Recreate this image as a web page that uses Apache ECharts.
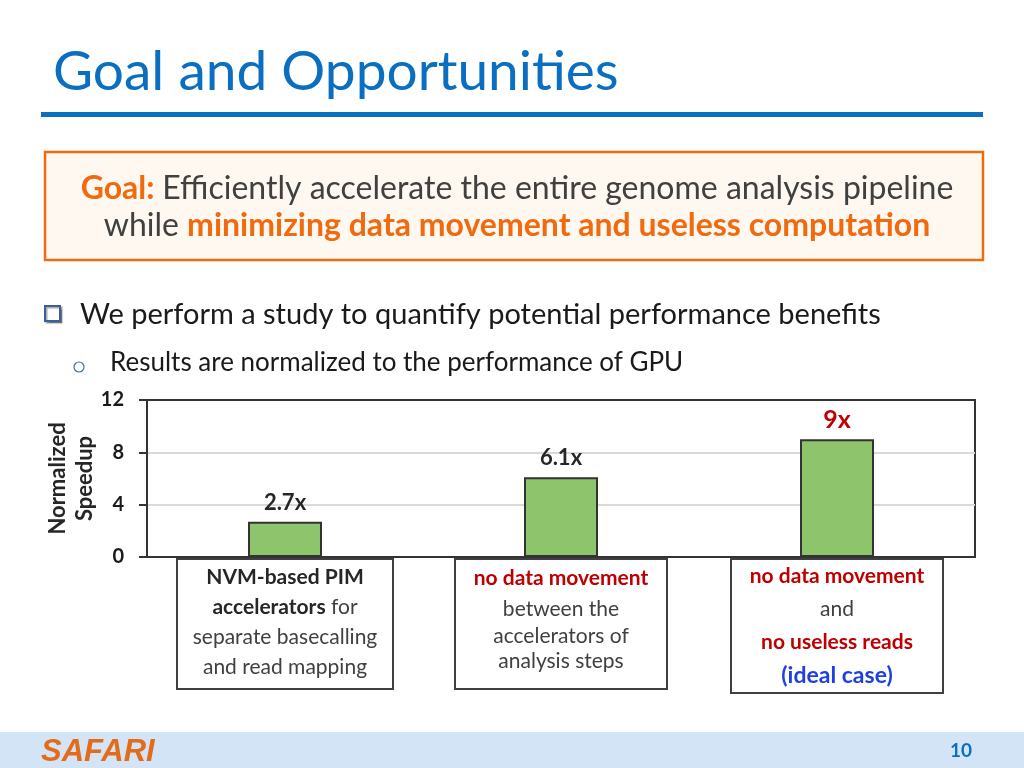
<!DOCTYPE html>
<html>
<head>
<meta charset="utf-8">
<script src="https://cdn.jsdelivr.net/npm/echarts@6/dist/echarts.min.js"></script>
<style>
html,body{margin:0;padding:0;background:#fff;}
#c{width:1024px;height:768px;}
</style>
</head>
<body>
<div id="c"></div>
<script>
// ---- data ----
var categories = [
  'NVM-based PIM accelerators for separate basecalling and read mapping',
  'no data movement between the accelerators of analysis steps',
  'no data movement and no useless reads (ideal case)'
];
var categoryLabels = [
  '{b|NVM-based PIM}\n{b|accelerators}{n| for}\n{n|separate basecalling}\n{n|and read mapping}',
  '{r|no data movement}\n{n|between the}\n{m|accelerators of}\n{m|analysis steps}',
  '{r3|no data movement}\n{n3|and}\n{r3|no useless reads}\n{bl|(ideal case)}'
];
var speedup = [2.7, 6.1, 9];
var barLabels = ['2.7x', '6.1x', '9x'];
var yTicks = [0, 4, 8, 12];

var FONT = 'Lato, "Noto Sans", sans-serif';

var chart = echarts.init(document.getElementById('c'), null, {renderer: 'canvas'});

var labelStyles = [
  {padding: [2, 6, 6, 6], width: 202},
  {padding: [2, 6, 14, 6], width: 198},
  {padding: [0, 6, 0, 6], width: 198}
];

var xData = categories.map(function (c, i) {
  return {value: c, textStyle: labelStyles[i]};
});

var barData = speedup.map(function (v, i) {
  var last = i === speedup.length - 1;
  return {
    value: v,
    label: {
      formatter: barLabels[i],
      color: last ? '#c00000' : '#262626',
      fontSize: last ? 25 : 22,
      distance: last ? 7 : 8
    }
  };
});

var option = {
  animation: false,
  backgroundColor: '#ffffff',
  grid: {
    left: 147, right: 49, top: 400, bottom: 211,
    show: true, borderColor: '#333', borderWidth: 2, backgroundColor: 'transparent'
  },
  xAxis: {
    type: 'category',
    data: xData,
    axisLine: {show: true, lineStyle: {color: '#333', width: 2}},
    axisTick: {show: false},
    axisLabel: {
      interval: 0,
      margin: 3,
      verticalAlign: 'top',
      align: 'center',
      backgroundColor: '#fff',
      borderColor: '#404040',
      borderWidth: 2,
      formatter: function (v, i) { return categoryLabels[i]; },
      rich: {
        b: {fontFamily: FONT, fontSize: 21, fontWeight: 'bold', color: '#262626', lineHeight: 30},
        n: {fontFamily: FONT, fontSize: 21, color: '#404040', lineHeight: 30},
        m: {fontFamily: FONT, fontSize: 21, color: '#404040', lineHeight: 25},
        r: {fontFamily: FONT, fontSize: 21, fontWeight: 'bold', color: '#c00000', lineHeight: 32},
        r3: {fontFamily: FONT, fontSize: 21, fontWeight: 'bold', color: '#c00000', lineHeight: 33},
        n3: {fontFamily: FONT, fontSize: 21, color: '#404040', lineHeight: 33},
        bl: {fontFamily: FONT, fontSize: 23, fontWeight: 'bold', color: '#1f3fe0', lineHeight: 33}
      }
    }
  },
  yAxis: {
    type: 'value',
    min: yTicks[0],
    max: yTicks[yTicks.length - 1],
    interval: 4,
    name: 'Normalized\nSpeedup',
    nameLocation: 'middle',
    nameGap: 49,
    nameMoveOverlap: false,
    nameTextStyle: {fontFamily: FONT, fontSize: 22, fontWeight: 'bold', color: '#262626', lineHeight: 27},
    axisLine: {show: true, lineStyle: {color: '#333', width: 2}},
    axisTick: {show: true, length: 8, lineStyle: {color: '#333', width: 2}},
    axisLabel: {fontFamily: FONT, fontSize: 20, fontWeight: 'bold', color: '#1a1a1a', margin: 23},
    splitLine: {show: true, lineStyle: {color: ['#333', '#d9d9d9', '#d9d9d9', '#333'], width: 2}}
  },
  series: [{
    type: 'bar',
    data: barData,
    barWidth: 74,
    itemStyle: {color: '#8ec46c', borderColor: '#333', borderWidth: 2},
    label: {show: true, position: 'top', fontFamily: FONT, fontWeight: 'bold'}
  }],
  graphic: [
    // title
    {type: 'text', left: 53, top: 45, style: {text: 'Goal and Opportunities', fontFamily: FONT, fontSize: 55, fill: '#0a6fc0'}},
    {type: 'rect', shape: {x: 41, y: 112, width: 942, height: 5}, style: {fill: '#0a70c0'}},
    // goal box
    {type: 'rect', shape: {x: 45, y: 152, width: 938, height: 108}, style: {fill: '#fef8f0', stroke: '#f06a10', lineWidth: 2.5}},
    {type: 'text', x: 517, y: 207, style: {
      text: '{o|Goal: }{g|Efficiently accelerate the entire genome analysis pipeline}\n{g|while }{ob|minimizing data movement and useless computation}',
      align: 'center', verticalAlign: 'middle',
      rich: {
        o: {fontFamily: FONT, fontSize: 32, fontWeight: 'bold', fill: '#f06a10', lineHeight: 37},
        g: {fontFamily: FONT, fontSize: 32, fill: '#404040', lineHeight: 37},
        ob: {fontFamily: FONT, fontSize: 32, fontWeight: 'bold', fill: '#f06a10', lineHeight: 37}
      }
    }},
    // bullets
    {type: 'rect', shape: {x: 45, y: 306, width: 15, height: 15}, style: {fill: '#fff', stroke: '#3a5fa0', lineWidth: 2, shadowColor: 'rgba(0,0,0,0.35)', shadowOffsetX: 1.5, shadowOffsetY: 1.5, shadowBlur: 1}},
    {type: 'text', left: 80, top: 300, style: {text: 'We perform a study to quantify potential performance benefits', fontFamily: FONT, fontSize: 29, fill: '#1a1a1a'}},
    {type: 'circle', shape: {cx: 79, cy: 367, r: 5}, style: {fill: 'none', stroke: '#3a70b0', lineWidth: 1.2}},
    {type: 'text', left: 110, top: 350, style: {text: 'Results are normalized to the performance of GPU', fontFamily: FONT, fontSize: 26, fill: '#1a1a1a'}},
    // footer
    {type: 'rect', shape: {x: 0, y: 732, width: 1024, height: 36}, style: {fill: '#d4e4f7'}},
    {type: 'text', left: 41, top: 737, style: {text: 'SAFARI', fontFamily: '"Liberation Sans Narrow", "Liberation Sans", sans-serif', fontSize: 31, fontWeight: 'bold', fontStyle: 'italic', fill: '#e36c1a'}},
    {type: 'text', left: 950, top: 741, style: {text: '10', fontFamily: FONT, fontSize: 19, fontWeight: 'bold', fill: '#0a6fc0'}}
  ]
};
chart.setOption(option);
</script>
</body>
</html>
